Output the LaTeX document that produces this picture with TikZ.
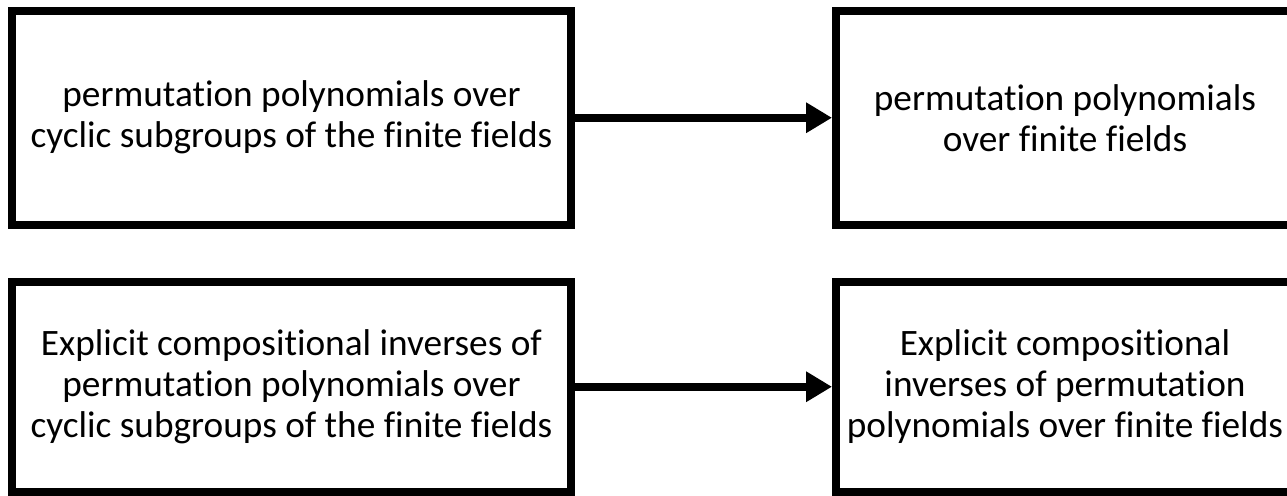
\documentclass[tikz,border=0pt]{standalone}
\usepackage{fontspec}
\setmainfont{Carlito}[Ligatures={NoCommon}]
\usetikzlibrary{arrows.meta}
\tikzset{
  box/.style={draw=black, line width=8pt, rectangle, align=center, inner sep=0pt,
    font=\fontsize{37.3}{41}\selectfont, text=black},
  leftbox/.style={box, minimum width=559pt, minimum height=213.5pt},
  rightbox/.style={box, minimum width=458pt, minimum height=213.5pt},
  conn/.style={line width=8pt, -{Triangle[length=26pt,width=29pt]}}
}
\begin{document}
\begin{tikzpicture}[x=1pt,y=-1pt]
\useasboundingbox (0,0) rectangle (1287,495);
\node[leftbox] (a) at (291.5,117.75) {permutation polynomials over\\cyclic subgroups of the finite fields};
\node[rightbox] (b) at (1065,117.75) {permutation polynomials\\over finite fields};
\node[leftbox, minimum height=210.5pt] (c) at (291.5,386.75) {Explicit compositional inverses of\\permutation polynomials over\\cyclic subgroups of the finite fields};
\node[rightbox, minimum height=210.5pt] (d) at (1065,386.75) {Explicit compositional\\inverses of permutation\\polynomials over finite fields};
\draw[conn] (a) -- (b);
\draw[conn] (c) -- (d);
\end{tikzpicture}
\end{document}
